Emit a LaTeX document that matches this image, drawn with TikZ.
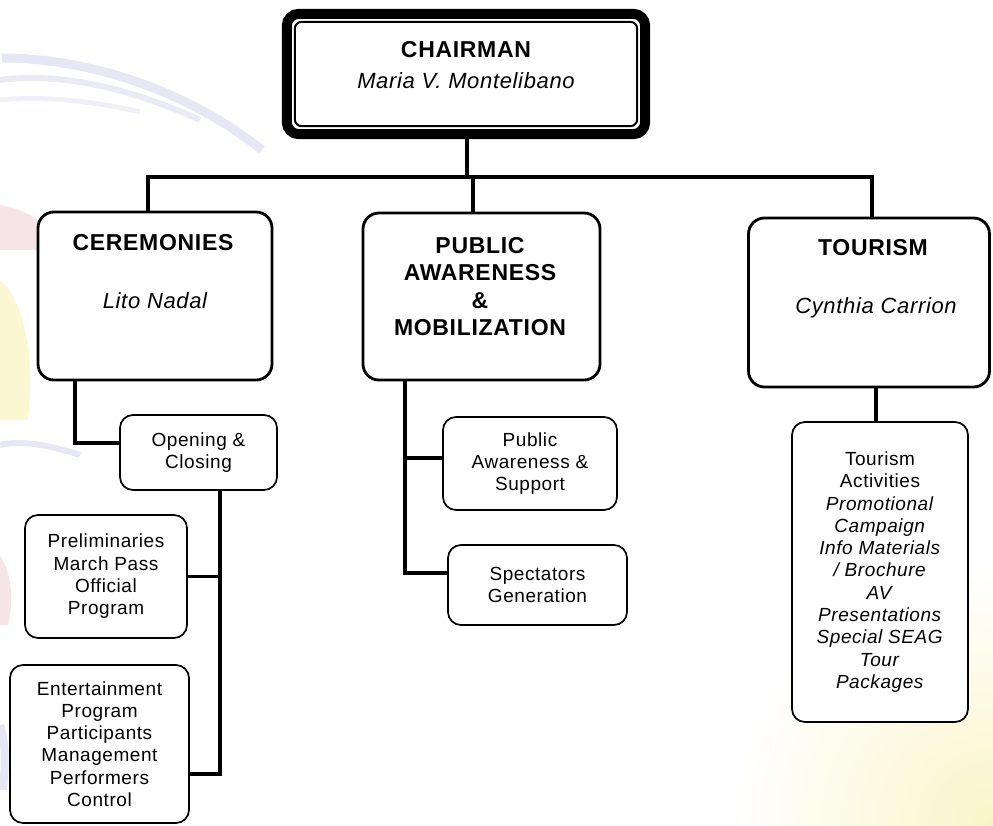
\documentclass[tikz,border=0pt]{standalone}
\usepackage{fontspec}
\setmainfont{Liberation Sans}[LetterSpace=3]
\usetikzlibrary{calc}
\definecolor{lav}{RGB}{214,214,236}
\definecolor{pinkish}{RGB}{240,212,214}
\definecolor{paleyel}{RGB}{250,245,200}
\begin{document}
\begin{tikzpicture}[x=1pt,y=-1pt,
  conn/.style={line width=3.5pt, line join=miter},
  mainbox/.style={draw, line width=2.8pt, rounded corners=16pt, fill=white, inner sep=0pt},
  subbox/.style={draw, line width=1.7pt, rounded corners=13pt, fill=white, align=center, inner sep=0pt, font=\fontsize{19}{22.3}\selectfont},
  head/.style={font=\fontsize{23}{27.6}\selectfont\bfseries, align=center, inner sep=0pt},
  pname/.style={font=\fontsize{22}{26}\selectfont\itshape, inner sep=0pt, anchor=base}]
\useasboundingbox (0,0) rectangle (993,825);
% faint background
\begin{scope}
  \clip (0,0) rectangle (993,825);
  \shade[inner color=paleyel, outer color=white] (993,825) circle (260pt);
  \draw[lav, line width=9pt, opacity=0.6] (2,58) .. controls (80,58) and (180,85) .. (262,150);
  \draw[lav, line width=6pt, opacity=0.5] (0,80) .. controls (60,72) and (130,88) .. (200,120);
  \draw[lav, line width=5pt, opacity=0.4] (0,100) .. controls (40,96) and (90,100) .. (140,112);
  \fill[pinkish, opacity=0.6] (0,205) .. controls (30,210) and (50,225) .. (60,250) -- (0,250) -- cycle;
  \fill[paleyel, opacity=0.8] (0,280) .. controls (25,300) and (35,360) .. (28,420) -- (0,420) -- cycle;
  \draw[lav, line width=6pt, opacity=0.6] (0,445) .. controls (20,440) and (50,445) .. (80,455);
  \fill[pinkish, opacity=0.6] (0,555) .. controls (12,575) and (14,600) .. (8,625) -- (0,625) -- cycle;
  \draw[lav, line width=8pt, opacity=0.6] (0,725) .. controls (5,740) and (6,760) .. (3,790);
\end{scope}

% chairman
\node[fill=white, rounded corners=15pt, minimum width=368pt, minimum height=130pt, inner sep=0pt] (chair) at (466,74) {};
\draw[line width=10pt, rounded corners=12pt] ($(chair.north west)+(5,5)$) rectangle ($(chair.south east)+(-5,-5)$);
\draw[line width=2pt, rounded corners=7pt] ($(chair.north west)+(13,13)$) rectangle ($(chair.south east)+(-13,-13)$);
\node[head] (chair-t) at (466,50) {CHAIRMAN};
\node[pname] (chair-n) at (466,88) {Maria V. Montelibano};

% main boxes
\node[mainbox, minimum width=234pt, minimum height=168pt] (cer) at (155,296) {};
\node[head] (cer-t) at (153,243) {CEREMONIES};
\node[pname] (cer-n) at (155,308) {Lito Nadal};

\node[mainbox, minimum width=237pt, minimum height=167pt] (pub) at (481.5,296.5) {};
\node[head] (pub-t) at (480,286.5) {PUBLIC\\AWARENESS\\\&\\MOBILIZATION};

\node[mainbox, minimum width=241pt, minimum height=169pt] (tour) at (869,302.5) {};
\node[head] (tour-t) at (873,248) {TOURISM};
\node[pname] (tour-n) at (876,313) {Cynthia Carrion};

% sub boxes
\node[subbox, minimum width=157pt, minimum height=75pt] (open) at (198.5,452.5) {Opening \&\\Closing};
\node[subbox, minimum width=162pt, minimum height=123pt] (prel) at (106,576.5) {Preliminaries\\March Pass\\Official\\Program};
\node[subbox, minimum width=179pt, minimum height=158pt] (ent) at (99.5,744) {Entertainment\\Program\\Participants\\Management\\Performers\\Control};
\node[subbox, minimum width=174pt, minimum height=93pt] (sup) at (530,463.5) {Public\\Awareness \&\\Support};
\node[subbox, minimum width=179pt, minimum height=80pt] (spec) at (537.5,585) {Spectators\\Generation};
\node[subbox, minimum width=176pt, minimum height=300pt] (tsub) at (880,572) {Tourism\\Activities\\\textit{Promotional}\\\textit{Campaign}\\\textit{Info Materials}\\\textit{/ Brochure}\\\textit{AV}\\\textit{Presentations}\\\textit{Special SEAG}\\\textit{Tour}\\\textit{Packages}};

% connectors
\coordinate (bl) at (148,177);
\coordinate (br) at (872,177);
\coordinate (bc) at (467,177);
\coordinate (bp) at (473,177);
\draw[conn] (bc |- chair.south) -- (bc);
\draw[conn] (bl |- cer.north) -- (bl) -- (br) -- (br |- tour.north);
\draw[conn] (bp) -- (bp |- pub.north);

\coordinate (c1) at (75,443);
\draw[conn] (c1 |- cer.south) -- (c1) -- (c1 -| open.west);
\coordinate (c2) at (220,774);
\draw[conn] (c2 |- open.south) -- (c2) -- (c2 -| ent.east);
\draw[conn] (prel.east) -- (prel.east -| c2);

\coordinate (c3) at (405,573);
\coordinate (c4) at (405,458);
\draw[conn] (c3 |- pub.south) -- (c3) -- (c3 -| spec.west);
\draw[conn] (c4) -- (c4 -| sup.west);

\coordinate (c5) at (876,400);
\draw[conn] (c5 |- tour.south) -- (c5 |- tsub.north);
\end{tikzpicture}
\end{document}
